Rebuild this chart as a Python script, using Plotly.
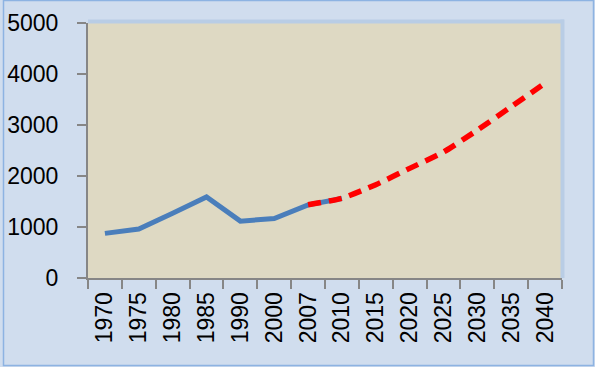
import plotly.graph_objects as go

# Category labels along the horizontal axis
years = ["1970", "1975", "1980", "1985", "1990", "2000", "2007",
         "2010", "2015", "2020", "2025", "2030", "2035", "2040"]

# Historical series (solid blue)
hist_years = ["1970", "1975", "1980", "1985", "1990", "2000", "2007", "2010"]
hist_values = [875, 960, 1270, 1590, 1115, 1165, 1435, 1560]

# Projected series (dashed red)
proj_years = ["2007", "2010", "2015", "2020", "2025", "2030", "2035", "2040"]
proj_values = [1435, 1565, 1830, 2150, 2470, 2900, 3360, 3820]

y_ticks = [0, 1000, 2000, 3000, 4000, 5000]

W, H = 595, 367
L, R, T, B = 88, 33, 23, 89
pw, ph = W - L - R, H - T - B

font_family = "Liberation Sans, Arial, sans-serif"
font_size = 23

fig = go.Figure()
fig.add_trace(go.Scatter(
    x=hist_years, y=hist_values, mode="lines",
    line=dict(color="#4a7ebb", width=5),
    hoverinfo="skip", showlegend=False,
))
fig.add_trace(go.Scatter(
    x=proj_years, y=proj_values, mode="lines",
    line=dict(color="#ff0000", width=5.5, dash="13px,8px", shape="spline", smoothing=0.6),
    hoverinfo="skip", showlegend=False,
))


def px_x(p):
    return (p - L) / pw


def px_y(p):
    return (H - B - p) / ph


shapes = [
    # outer frame of the chart area
    dict(type="rect", xref="paper", yref="paper", layer="below",
         x0=px_x(3.5), x1=px_x(593.5), y0=px_y(365.5), y1=px_y(0.5),
         line=dict(color="#8db3e2", width=1.5), fillcolor="rgba(0,0,0,0)"),
    # light blue border around the plot area (top and right)
    dict(type="line", xref="paper", yref="paper", layer="above",
         x0=0, x1=px_x(L + pw + 2), y0=px_y(T - 1.5), y1=px_y(T - 1.5),
         line=dict(color="#b9cde5", width=4)),
    dict(type="line", xref="paper", yref="paper", layer="above",
         x0=px_x(L + pw + 0.5), x1=px_x(L + pw + 0.5), y0=0, y1=px_y(T - 3.5),
         line=dict(color="#b9cde5", width=4)),
]

fig.update_layout(
    width=W, height=H,
    margin=dict(l=L, r=R, t=T, b=B, pad=0, autoexpand=False),
    paper_bgcolor="#d0ddee",
    plot_bgcolor="#ded9c3",
    font=dict(family=font_family, size=font_size, color="#000000"),
    shapes=shapes,
    xaxis=dict(
        type="category", categoryorder="array", categoryarray=years,
        range=[-0.5, len(years) - 0.5], automargin=False,
        tickmode="array", tickvals=years, ticktext=years,
        tickson="boundaries", ticks="outside", ticklen=9, tickwidth=2,
        tickcolor="#868686", tickangle=-90,
        showline=True, linecolor="#868686", linewidth=2,
        showgrid=False, zeroline=False,
        tickfont=dict(family=font_family, size=font_size),
        ticklabelstandoff=3,
    ),
    yaxis=dict(
        range=[0, 5000], tickmode="array", tickvals=y_ticks, automargin=False,
        ticktext=[str(v) for v in y_ticks],
        ticks="outside", ticklen=9, tickwidth=2, tickcolor="#868686",
        showline=True, linecolor="#868686", linewidth=2,
        showgrid=False, zeroline=False,
        tickfont=dict(family=font_family, size=font_size),
        ticklabelstandoff=14,
    ),
)

fig.write_html("out.html")
